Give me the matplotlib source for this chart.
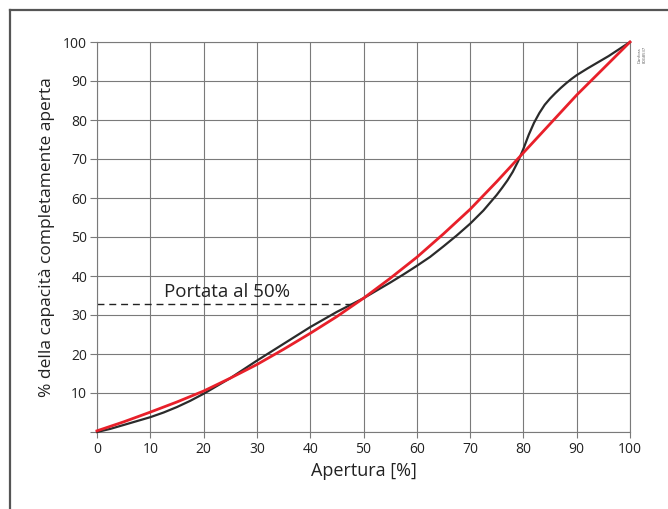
import matplotlib
matplotlib.use('Agg')
from matplotlib import pyplot as plt
from matplotlib.lines import Line2D

plt.rcParams['font.family'] = ['Open Sans', 'DejaVu Sans']

# curva caratteristica (nera)
x_nera = [0, 2.5, 5, 7.5, 10, 12.5, 15, 17.5, 20, 25, 30, 35, 40, 45, 50, 55, 57.5, 60, 62.5, 65, 67.5, 70, 72.5, 75,
          76, 77, 78, 79, 80, 81, 82, 83, 84, 85, 86, 87, 88, 89, 90, 92, 94, 96, 98, 100]
y_nera = [0, 0.8, 1.8, 2.8, 3.8, 5.0, 6.4, 8.0, 9.8, 13.8, 18.3, 22.6, 26.9, 30.8, 34.3, 38.3, 40.4, 42.6, 44.9, 47.6,
          50.4, 53.4, 56.8, 60.8, 62.6, 64.5, 66.7, 69.4, 72.6, 76.2, 79.3, 81.8, 83.9, 85.5, 86.9, 88.2, 89.4, 90.5,
          91.5, 93.2, 94.8, 96.4, 98.2, 100]

# curva rossa
x_rossa = [0, 5, 10, 15, 20, 25, 30, 35, 40, 45, 50, 55, 60, 65, 70, 75, 80, 85, 90, 95, 100]
y_rossa = [0.3, 2.6, 5.1, 7.7, 10.5, 13.8, 17.3, 21.2, 25.3, 29.6, 34.3, 39.4, 44.8, 50.8, 57.1, 64.2, 71.6, 79, 86.4, 93.2, 100]

x_ticks = list(range(0, 101, 10))
y_ticks = list(range(0, 101, 10))
y_tick_labels = [''] + [str(v) for v in y_ticks[1:]]

livello_50 = 32.7

fig = plt.figure(figsize=(6.68, 5.09), dpi=100)
ax = fig.add_axes([97/668, 77/509, 533/668, 390/509])

grigio = '#7a7a7a'
ax.set_xlim(0, 100)
ax.set_ylim(0, 100)
ax.set_xticks(x_ticks)
ax.set_yticks(y_ticks)
ax.set_yticklabels(y_tick_labels)
ax.grid(True, color=grigio, linewidth=0.8)
for s in ax.spines.values():
    s.set_color(grigio)
    s.set_linewidth(0.8)
ax.tick_params(axis='y', length=5, width=0.8, color=grigio, pad=2, labelsize=10, labelcolor='#222222')
ax.tick_params(axis='x', length=4, width=0.8, color=grigio, pad=3, labelsize=10, labelcolor='#222222')

ax.plot(x_nera, y_nera, color='#2b2b2b', linewidth=1.6, zorder=3, clip_on=False, solid_joinstyle='round')
ax.plot(x_rossa, y_rossa, color='#e8202a', linewidth=2.0, zorder=4, clip_on=False, solid_joinstyle='round')

ax.plot([0, 48], [livello_50, livello_50], color='#222222', linewidth=1.0, linestyle=(0, (5, 3.5)), zorder=2)
ax.text(12.6, livello_50 + 1.8, 'Portata al 50%', fontsize=13.5, color='#222222')

ax.set_xlabel('Apertura [%]', fontsize=13, color='#222222', labelpad=4)
ax.set_ylabel('% della capacità completamente aperta', fontsize=12.5, color='#222222', labelpad=6)

ax.text(101.5, 99, 'Danfoss\n80G8537', fontsize=3, rotation=90, va='top', ha='left', color='#555555')

# cornice a sinistra e in alto
fig.add_artist(Line2D([10/668, 10/668], [0, 499/509], color='#555555', linewidth=1.6))
fig.add_artist(Line2D([10/668, 1], [499/509, 499/509], color='#555555', linewidth=1.6))

fig.savefig('out.png', dpi=100)
